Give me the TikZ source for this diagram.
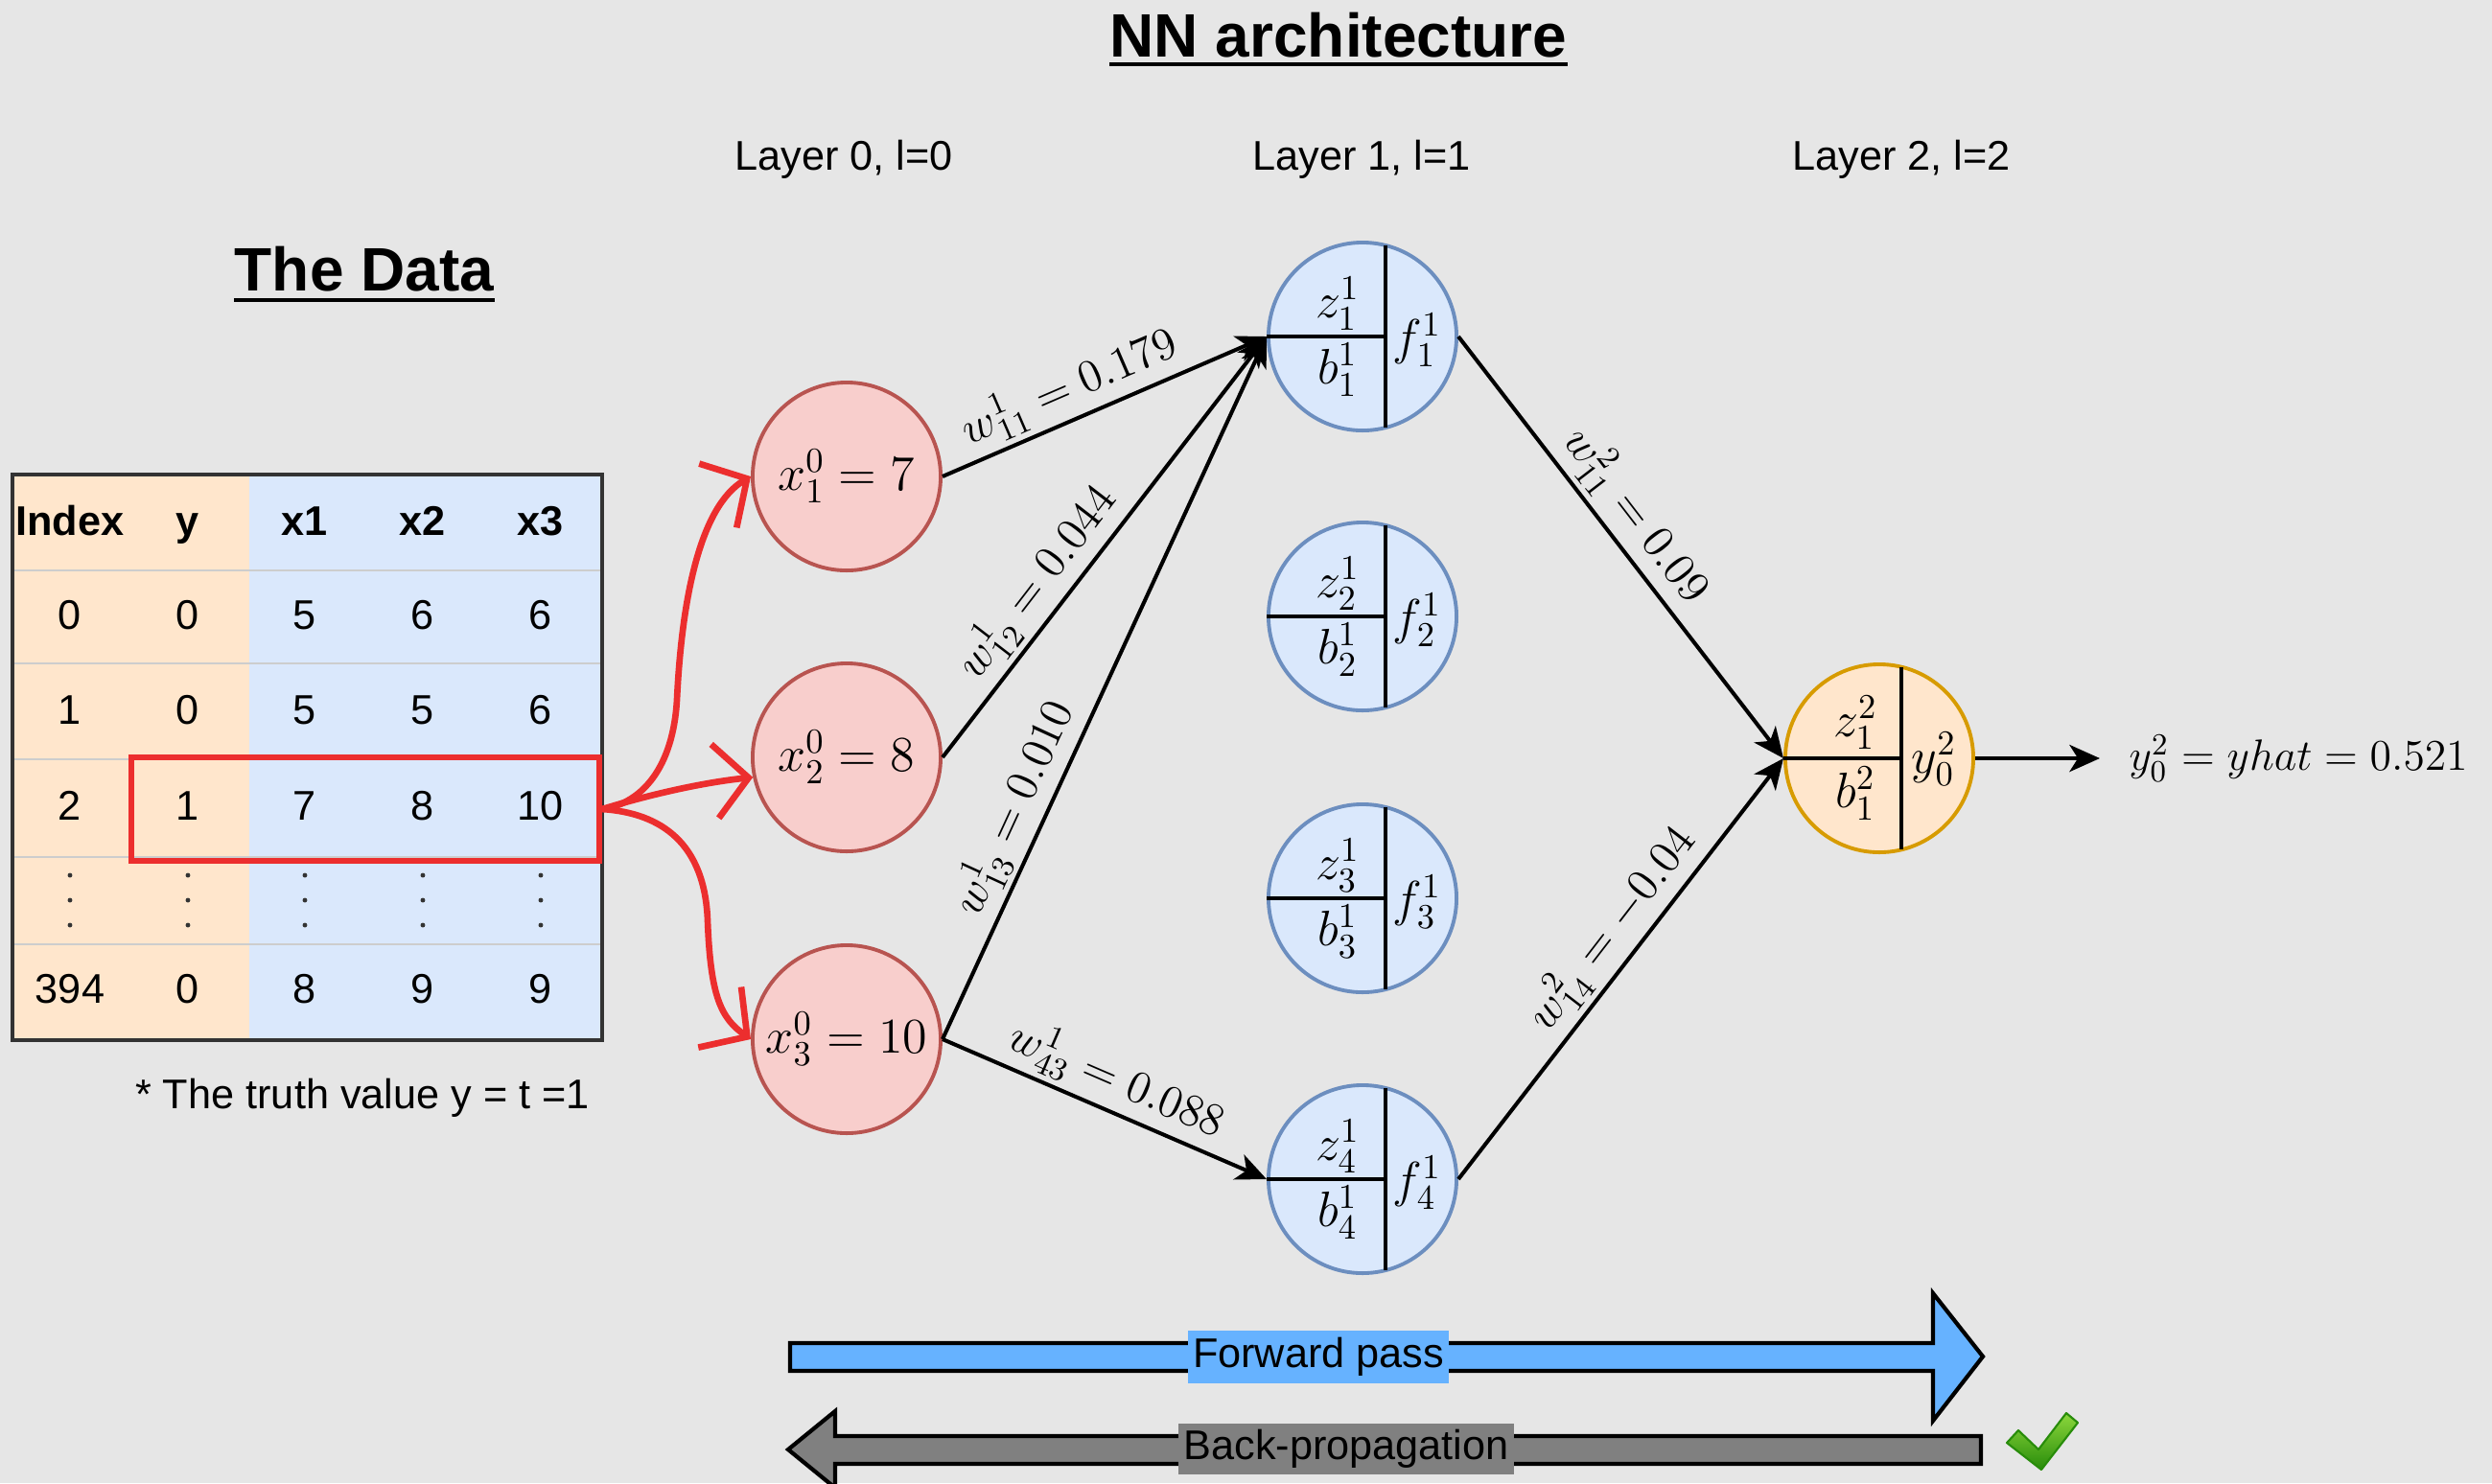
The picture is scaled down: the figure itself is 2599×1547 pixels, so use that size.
\RequirePackage{fix-cm}
\documentclass[tikz,border=0pt]{standalone}
\usepackage{fontspec}
\setmainfont{Liberation Sans}
\usetikzlibrary{arrows.meta,calc}

% palette
\definecolor{bgcol}{RGB}{230,230,230}
\definecolor{tblorange}{RGB}{255,230,204}
\definecolor{tblblue}{RGB}{218,232,252}
\definecolor{inred}{RGB}{184,84,80}
\definecolor{inredfill}{RGB}{248,206,204}
\definecolor{hidblue}{RGB}{108,142,191}
\definecolor{hidfill}{RGB}{218,232,252}
\definecolor{outgold}{RGB}{215,155,0}
\definecolor{outfill}{RGB}{255,230,204}
\definecolor{selred}{RGB}{236,46,46}
\definecolor{fwdblue}{RGB}{102,178,255}
\definecolor{backgray}{RGB}{128,128,128}
\definecolor{sepgray}{RGB}{205,205,205}
\definecolor{checkdark}{RGB}{40,140,10}
\definecolor{checklight}{RGB}{140,215,60}

% font sizes
\newcommand\titlefs{\fontsize{18.2pt}{22pt}\selectfont}
\newcommand\txtfs{\fontsize{12.3pt}{15pt}\selectfont}
\newcommand\nodefs{\fontsize{14.8pt}{17pt}\selectfont}
\newcommand\edgefs{\fontsize{13.6pt}{16pt}\selectfont}
\newcommand\outfs{\fontsize{13pt}{16pt}\selectfont}

\tikzset{
  neuron/.style={circle, minimum size=1.96cm, inner sep=0pt, line width=1.1pt},
  inneuron/.style={neuron, draw=inred, fill=inredfill, font=\nodefs},
  hidneuron/.style={neuron, draw=hidblue, fill=hidfill},
  outneuron/.style={neuron, draw=outgold, fill=outfill},
  divider/.style={line width=1.2pt, black},
  mathlbl/.style={font=\nodefs, inner sep=0pt},
  wline/.style={-{Stealth[length=9pt,width=8pt,inset=2.5pt]}, line width=1.15pt},
  wlabel/.style={font=\edgefs, sloped, above, inner sep=1.5pt},
  redfeed/.style={-{Straight Barb[length=10pt,width=22pt]}, selred, line width=1.9pt},
  celltext/.style={font=\txtfs, anchor=base, inner sep=0pt},
  blockarrow/.style={draw=black, line width=1.2pt, line join=miter},
}

\begin{document}
\begin{tikzpicture}[x=0.01cm, y=-0.01cm]
\useasboundingbox (0,0) rectangle (2599,1547);
\clip (0,0) rectangle (2599,1547);
\fill[bgcol] (0,0) rectangle (2599,1547);

% ---------- headings ----------
\node[font=\titlefs\bfseries, anchor=base, inner sep=0pt] (nntitle) at (1396,59) {NN architecture};
\draw[line width=1.2pt] ($(nntitle.base west)+(0,8)$) -- ($(nntitle.base east)+(0,8)$);
\node[font=\titlefs\bfseries, anchor=base, inner sep=0pt] (datatitle) at (380,303) {The Data};
\draw[line width=1.2pt] ($(datatitle.base west)+(0,10)$) -- ($(datatitle.base east)+(0,10)$);

\node[celltext] (lay0) at (880,177) {Layer 0, l=0};
\node[celltext] (lay1) at (1420,177) {Layer 1, l=1};
\node[celltext] (lay2) at (1983,177) {Layer 2, l=2};

% ---------- data table ----------
\fill[tblorange] (13,495) rectangle (260,1085);
\fill[tblblue] (260,495) rectangle (628,1085);
\foreach \yy in {595,692,792,894,985}
  \draw[sepgray, line width=0.5pt] (13,\yy) -- (628,\yy);
\draw[line width=0.9pt, black!80] (13,495) rectangle (628,1085);

\foreach \x/\t [count=\i] in {73/Index,196/y,318/x1,441/x2,564/x3}
  \node[celltext, font=\txtfs\bfseries] (hd\i) at (\x,558) {\t};

\foreach \r/\yy/\a/\b/\c/\d/\e in {0/656/0/0/5/6/6, 1/755/1/0/5/5/6, 2/855/2/1/7/8/10, 3/1046/394/0/8/9/9} {
  \node[celltext] (c\r a) at (73,\yy) {\a};
  \node[celltext] (c\r b) at (196,\yy) {\b};
  \node[celltext] (c\r c) at (318,\yy) {\c};
  \node[celltext] (c\r d) at (441,\yy) {\d};
  \node[celltext] (c\r e) at (564,\yy) {\e};
}
\foreach \x in {73,196,318,441,564}
  \foreach \yy in {913,939,965}
    \fill[black!80] (\x,\yy) circle (0.7pt);

\node[celltext] (truth) at (378,1156) {* The truth value y = t =1};

% selected sample
\node[draw=selred, line width=1.7pt, minimum width=4.88cm, minimum height=1.08cm, inner sep=0pt] (sel) at (381,844) {};

% ---------- input layer ----------
\node[inneuron] (in1) at (883,497) {$x^0_1 = 7$};
\node[inneuron] (in2) at (883,790) {$x^0_2 = 8$};
\node[inneuron] (in3) at (883,1084) {$x^0_3 = 10$};

\draw[redfeed] (sel.east) .. controls (670,838) and (702,800) .. (706,730)
                .. controls (711,625) and (730,528) .. (in1.west);
\draw[redfeed] (sel.east) .. controls (680,828) and (735,816) .. (in2.192);
\draw[redfeed] (sel.east) .. controls (690,848) and (735,880) .. (738,960)
                .. controls (741,1040) and (752,1062) .. (in3.west);

% ---------- hidden layer ----------
\foreach \i/\yy in {1/351,2/643,3/937,4/1230} {
  \node[hidneuron] (h\i) at (1421,\yy) {};
  \draw[divider] ($(h\i)+(24,-95)$) -- ($(h\i)+(24,95)$);
  \draw[divider] (h\i.west) -- ($(h\i)+(24,0)$);
  \node[mathlbl] (hz\i) at ($(h\i)+(-26,-34)$) {$z^1_\i$};
  \node[mathlbl] (hb\i) at ($(h\i)+(-26,35)$) {$b^1_\i$};
  \node[mathlbl] (hf\i) at ($(h\i)+(57,4)$) {$f^1_\i$};
}

% ---------- output layer ----------
\node[outneuron] (out) at (1960,791) {};
\draw[divider] ($(out)+(23,-95)$) -- ($(out)+(23,95)$);
\draw[divider] (out.west) -- ($(out)+(23,0)$);
\node[mathlbl] (oz) at ($(out)+(-25,-37)$) {$z^2_1$};
\node[mathlbl] (ob) at ($(out)+(-25,37)$) {$b^2_1$};
\node[mathlbl] (oy) at ($(out)+(57,1)$) {$y^2_0$};

% ---------- weighted connections ----------
\draw[wline] (in1.east) -- (h1.west) node[wlabel, pos=0.43] {$w^1_{11} = 0.179$};
\draw[wline] (in2.east) -- (h1.west) node[wlabel, pos=0.37] {$w^1_{12} = 0.044$};
\draw[wline] (in3.east) -- (h1.west) node[wlabel, pos=0.31] {$w^1_{13} = 0.010$};
\draw[wline] (in3.east) -- (h4.west) node[wlabel, pos=0.50] {$w^1_{43} = 0.088$};
\draw[wline] (h1.east) -- (out.west) node[wlabel, pos=0.47] {$w^2_{11} = 0.09$};
\draw[wline] (h4.east) -- (out.west) node[wlabel, pos=0.55] {$w^2_{14} = -0.04$};

\coordinate (yend) at (2190,791);
\draw[wline] (out.east) -- (yend);
\node[font=\outfs, anchor=west, inner sep=0pt] (yhat) at (2220,791) {$y^2_0 = yhat = 0.521$};

% ---------- pass arrows ----------
\filldraw[blockarrow, fill=fwdblue] (824,1401) -- (2016,1401) -- (2016,1349) -- (2068,1415)
  -- (2016,1482) -- (2016,1430) -- (824,1430) -- cycle;
\node[font=\txtfs, fill=fwdblue, inner xsep=1.5pt, inner ysep=0pt, minimum height=0.55cm] (fwdtxt) at (1375,1415) {Forward pass};

\filldraw[blockarrow, fill=backgray] (2066,1498) -- (871,1498) -- (871,1472) -- (822,1512)
  -- (871,1552) -- (871,1527) -- (2066,1527) -- cycle;
\node[font=\txtfs, fill=backgray, inner xsep=1.5pt, inner ysep=0pt, minimum height=0.53cm] (backtxt) at (1404,1511) {Back-propagation};

% check mark
\shadedraw[top color=checklight, bottom color=checkdark, draw=checkdark, line width=0.6pt, line join=round]
  (2093,1505) -- (2105,1492) -- (2126,1512) -- (2155,1474) -- (2167,1484) -- (2129,1533) -- cycle;
\end{tikzpicture}
\end{document}
